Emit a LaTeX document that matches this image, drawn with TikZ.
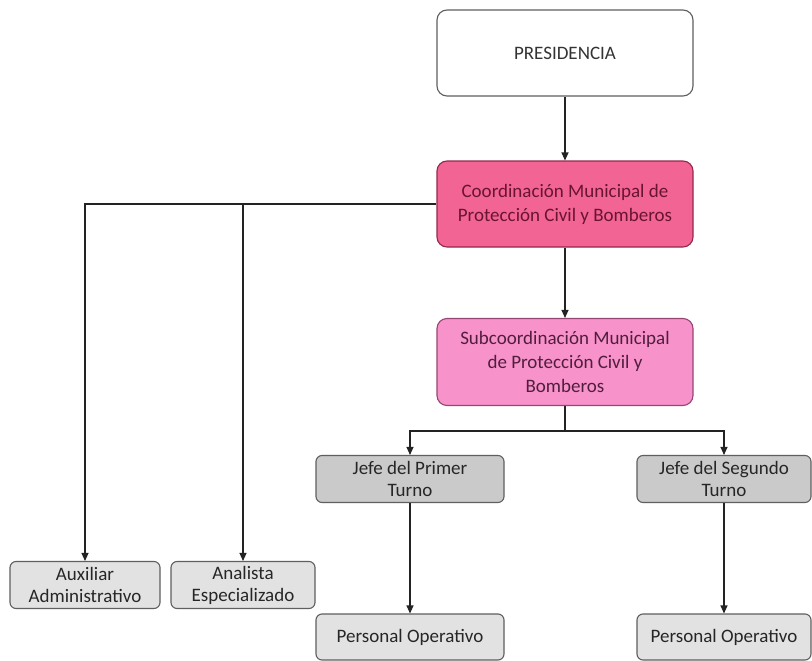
\documentclass[tikz,border=0pt]{standalone}
\usepackage{fontspec}
\setmainfont{Carlito}
\usetikzlibrary{arrows.meta}
\definecolor{coordfill}{RGB}{241,100,148}
\definecolor{coorddraw}{RGB}{150,40,80}
\definecolor{coordtext}{RGB}{105,20,50}
\definecolor{subfill}{RGB}{248,146,202}
\definecolor{subdraw}{RGB}{150,70,115}
\definecolor{subtext}{RGB}{80,30,60}
\definecolor{jefefill}{RGB}{202,202,202}
\definecolor{lightfill}{RGB}{226,226,226}
\definecolor{boxdraw}{RGB}{95,95,95}
\definecolor{linecol}{RGB}{35,35,35}
\tikzset{
  bigbox/.style={draw=boxdraw, line width=1.1pt, rounded corners=10pt, minimum width=256pt,
    align=center, font=\fontsize{19}{24}\selectfont, inner sep=0pt},
  smallbox/.style={draw=boxdraw, line width=1.1pt, rounded corners=6pt, minimum height=47pt,
    align=center, font=\fontsize{19}{22}\selectfont, inner sep=0pt, text=black!85},
  conn/.style={draw=linecol, line width=1.1pt},
  arr/.style={conn, -{Triangle[length=8pt,width=7pt]}}
}
\begin{document}
\begin{tikzpicture}[x=1pt,y=-1pt]
\useasboundingbox[fill=white] (0,0) rectangle (812,661);
\node[bigbox, fill=white, minimum height=86pt, text=black!80] (pres) at (565,53) {PRESIDENCIA};
\node[bigbox, fill=coordfill, draw=coorddraw, minimum height=86pt, text=coordtext] (coord) at (565,204)
  {Coordinación Municipal de\\Protección Civil y Bomberos};
\node[bigbox, fill=subfill, draw=subdraw, minimum height=87pt, text=subtext] (sub) at (565,362)
  {Subcoordinación Municipal\\de Protección Civil y\\Bomberos};
\node[smallbox, fill=jefefill, minimum width=188pt] (j1) at (410,479) {Jefe del Primer\\Turno};
\node[smallbox, fill=jefefill, minimum width=174pt] (j2) at (724,479) {Jefe del Segundo\\Turno};
\node[smallbox, fill=lightfill, minimum width=150pt] (aux) at (85,585) {Auxiliar\\Administrativo};
\node[smallbox, fill=lightfill, minimum width=144pt] (ana) at (243,585) {Analista\\Especializado};
\node[smallbox, fill=lightfill, minimum width=188pt, minimum height=46pt] (po1) at (410,637) {Personal Operativo};
\node[smallbox, fill=lightfill, minimum width=174pt, minimum height=46pt] (po2) at (724,637) {Personal Operativo};
\coordinate (split) at (565,431);
\draw[arr] (pres) -- (coord);
\draw[arr] (coord) -- (sub);
\draw[arr] (coord.west) -| (aux.north);
\draw[arr] (coord.west -| ana.north) -- (ana.north);
\draw[conn] (sub.south) -- (split);
\draw[arr] (split) -| (j1.north);
\draw[arr] (split) -| (j2.north);
\draw[arr] (j1) -- (po1);
\draw[arr] (j2) -- (po2);
\end{tikzpicture}
\end{document}
